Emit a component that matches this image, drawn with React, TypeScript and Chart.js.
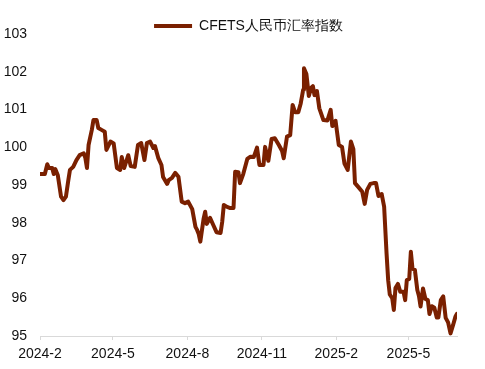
import React, { useEffect, useRef } from "react";
import { Chart, registerables } from "chart.js";

Chart.register(...registerables);

// CFETS RMB index, x = days since 2024-02-01
const seriesName = "CFETS人民币汇率指数";
const days = [
  0, 6, 9, 11, 15, 17, 19, 22, 26, 29,
  32, 35, 37, 41, 45, 49, 54, 56, 58, 60,
  64, 66, 70, 72, 76, 80, 82, 87, 91, 95,
  99, 101, 104, 109, 112, 117, 121, 125, 129, 132,
  136, 140, 142, 146, 150, 152, 157, 159, 163, 167,
  171, 175, 179, 183, 188, 192, 194, 196, 198, 202,
  204, 206, 210, 214, 218, 223, 225, 227, 231, 235,
  239, 241, 245, 247, 251, 256, 260, 264, 268, 271,
  276, 278, 282, 286, 290, 295, 299, 301, 305, 309,
  312, 315, 319, 322, 325, 326, 329, 332, 335, 337,
  339, 342, 345, 350, 355, 359, 361, 365, 369, 373,
  376, 380, 384, 387, 389, 393, 398, 401, 404, 408,
  412, 415, 418, 422, 425, 428, 430, 432, 435, 437,
  439, 442, 445, 449, 451, 453, 456, 458, 460, 463,
  466, 468, 470, 473, 476, 479, 481, 484, 487, 490,
  492, 495, 498, 501, 504, 507, 510, 513, 515,
];
const values = [
  99.29, 99.29, 99.55, 99.45, 99.45, 99.29, 99.42, 99.26, 98.69, 98.6,
  98.69, 99.13, 99.4, 99.48, 99.66, 99.79, 99.84, 99.72, 99.45, 100.06,
  100.46, 100.72, 100.72, 100.51, 100.46, 100.41, 99.93, 100.15, 100.1, 99.45,
  99.4, 99.74, 99.45, 99.79, 99.5, 99.48, 100.06, 100.11, 99.66, 100.11,
  100.15, 99.98, 100.03, 99.72, 99.53, 99.21, 99.03, 99.13, 99.19, 99.32,
  99.22, 98.56, 98.52, 98.56, 98.36, 97.89, 97.81, 97.7, 97.5, 98.1,
  98.29, 97.97, 98.13, 97.94, 97.75, 97.73, 98.02, 98.47, 98.42, 98.39,
  98.39, 99.35, 99.34, 99.05, 99.29, 99.69, 99.75, 99.74, 99.99, 99.53,
  99.53, 100.01, 99.64, 100.22, 100.24, 100.06, 99.9, 99.71, 100.28, 100.32,
  101.12, 100.93, 100.93, 101.16, 101.52, 102.09, 101.94, 101.36, 101.58, 101.62,
  101.38, 101.49, 101.03, 100.72, 100.71, 100.99, 100.56, 100.7, 100.06, 100.01,
  99.57, 99.4, 100.15, 99.95, 99.05, 98.95, 98.82, 98.5, 98.87, 99.03,
  99.05, 99.05, 98.71, 98.76, 98.43, 97.19, 96.48, 96.1, 96.0, 95.69,
  96.27, 96.38, 96.17, 96.17, 95.95, 96.48, 96.51, 97.23, 96.79, 96.75,
  96.22, 96.06, 95.78, 96.26, 95.98, 95.95, 95.58, 95.79, 95.75, 95.49,
  95.49, 95.95, 96.05, 95.48, 95.36, 95.07, 95.28, 95.51, 95.59,
];
const monthTickDays = [0, 90, 182, 274, 366, 455];
const monthTickLabels = ["2024-2", "2024-5", "2024-8", "2024-11", "2025-2", "2025-5"];
const xMax = 515;
const yMin = 95;
const yMax = 103;

const LINE = "#7a2000";
const FONT = "'Liberation Sans', Arial, sans-serif";
const TEXT = "#111111";

export default function App() {
  const ref = useRef<HTMLCanvasElement | null>(null);
  useEffect(() => {
    if (!ref.current) return;
    const chart = new Chart(ref.current, {
      type: "line",
      data: {
        datasets: [
          {
            label: seriesName,
            data: days.map((d, i) => ({ x: d, y: values[i] })),
            borderColor: LINE,
            backgroundColor: LINE,
            borderWidth: 4,
            pointRadius: 0,
            pointStyle: "line",
            tension: 0,
            borderJoinStyle: "round",
            borderCapStyle: "round",
          },
        ],
      },
      options: {
        responsive: false,
        animation: false,
        layout: { padding: { top: 19, right: 28, left: 0, bottom: 0 } },
        plugins: {
          tooltip: { enabled: false },
          legend: {
            display: true,
            position: "top",
            fullSize: false,
            maxHeight: 15,
            labels: {
              usePointStyle: true,
              pointStyle: "line",
              pointStyleWidth: 38,
              padding: 0,
              color: TEXT,
              font: { family: FONT, size: 14 },
            },
          },
        },
        scales: {
          x: {
            type: "linear",
            min: 0,
            max: xMax,
            afterBuildTicks: (scale: any) => {
              scale.ticks = monthTickDays.map((v) => ({ value: v }));
            },
            afterFit: (scale: any) => {
              scale.height = 33;
            },
            ticks: {
              autoSkip: false,
              maxRotation: 0,
              padding: 6,
              color: TEXT,
              font: { family: FONT, size: 14 },
              callback: (v: any) => {
                const i = monthTickDays.indexOf(Number(v));
                return i >= 0 ? monthTickLabels[i] : "";
              },
            },
            grid: {
              display: true,
              drawOnChartArea: false,
              drawTicks: true,
              tickLength: 4,
              color: "#d9d9d9",
            },
            border: { display: true, color: "#d9d9d9", width: 1 },
          },
          y: {
            type: "linear",
            min: yMin,
            max: yMax,
            afterFit: (scale: any) => {
              scale.width = 40;
            },
            ticks: {
              stepSize: 1,
              padding: 13,
              color: TEXT,
              font: { family: FONT, size: 14 },
            },
            grid: { display: false, drawTicks: false },
            border: { display: false },
          },
        },
      },
    });
    return () => chart.destroy();
  }, []);
  return (
    <div style={{ position: "absolute", left: 0, top: 0, width: 485, height: 369, background: "#fff" }}>
      <canvas ref={ref} width={485} height={369} style={{ display: "block" }} />
    </div>
  );
}
